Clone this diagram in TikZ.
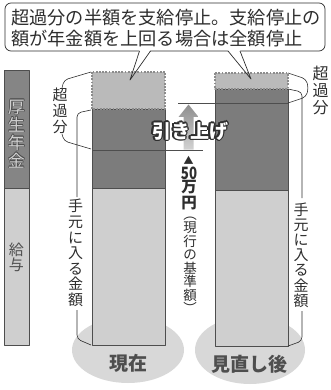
\documentclass[tikz,border=0pt]{standalone}
\usepackage{fontspec}
\setmainfont{Noto Sans CJK JP}
\definecolor{bardark}{HTML}{7C7C7C}
\definecolor{leftdark}{HTML}{858585}
\definecolor{barlight}{HTML}{CFCFCF}
\definecolor{barmid}{HTML}{BABABA}
\definecolor{dotgray}{HTML}{8C8C8C}
\definecolor{edge}{HTML}{4E4E4E}
\definecolor{blobgray}{HTML}{D8D8D8}
\definecolor{inkk}{HTML}{2E2E2E}
\definecolor{arrowtop}{HTML}{8E8E8E}
\definecolor{arrowbot}{HTML}{D2D2D2}
\newcommand\fs[2]{\fontsize{#1}{#2}\selectfont}
\tikzset{
  vtext/.style={align=center, inner sep=0pt, text=inkk},
  brk/.style={draw=inkk, line width=0.6pt, rounded corners=4pt},
  solidpart/.style={draw=edge, line width=0.6pt},
  excesspart/.style={fill=barmid, draw=dotgray, line width=1.6pt, dash pattern=on 1.8pt off 1.4pt},
  caption/.style={inner sep=0pt, font=\fs{19}{19}\bfseries, text=edge},
}
\begin{document}
\begin{tikzpicture}[x=1pt, y=-1pt, line join=round]
\useasboundingbox (0,0) rectangle (330,390);

% bottom blobs
\fill[blobgray] (128,350) ellipse [x radius=56pt, y radius=33pt];
\fill[blobgray] (250,350) ellipse [x radius=55pt, y radius=34pt];

% callout box
\draw[inkk, line width=0.7pt, fill=white, rounded corners=6pt] (5,3) rectangle (325,51);
\fill[white] (139.5,50) -- (130,80) -- (150.5,50) -- cycle;
\fill[white] (228,50) -- (251,79) -- (240,50) -- cycle;
\node[anchor=west, align=left, inner sep=0pt, font=\fs{18.2}{20.5}, text=inkk] (callout) at (11,28)
  {超過分の半額を支給停止。支給停止の\\額が年金額を上回る場合は全額停止};

% left reference bar
\filldraw[fill=leftdark, solidpart] (4,70) rectangle (29,188);
\filldraw[fill=barlight, solidpart] (4,188) rectangle (29,345);
\foreach \a in {0,45,...,315}
  \path (16.5,134) ++(\a:0.6) node[vtext, font=\fs{17}{18}, text=edge] {厚\\生\\年\\金};
\node[vtext, font=\fs{17}{18}, text=barlight] (nenkin) at (16.5,134) {厚\\生\\年\\金};
\node[vtext, font=\fs{15}{15.5}, text=edge] (kyuyo) at (16.5,257.5) {給\\与};

% current bar
\filldraw[fill=bardark, solidpart] (92,109) rectangle (165,188);
\filldraw[fill=barlight, solidpart] (92,188) rectangle (165,345);
\filldraw[excesspart] (92,72) rectangle (165,109);

% revised bar
\filldraw[fill=bardark, solidpart] (215,89) rectangle (288,190);
\filldraw[fill=barlight, solidpart] (215,190) rectangle (288,346);
\filldraw[excesspart] (215,73) rectangle (288,89);

% threshold lines
\draw[edge, line width=0.6pt] (92,150) -- (203,150);
\draw[edge, line width=0.6pt] (178,103) -- (288,103);

% raise arrow
\shade[top color=arrowtop, bottom color=arrowbot]
  (183.5,149.5) -- (183.5,117) -- (178.5,117) -- (188.5,104.5) -- (198.5,117) -- (193.5,117) -- (193.5,149.5) -- cycle;
\foreach \a in {0,30,...,330}
  \path (190,131) ++(\a:1.2) node[inner sep=0pt, font=\fs{19}{19}\bfseries, text=inkk] {引き上げ};
\node[inner sep=0pt, font=\fs{19}{19}\bfseries, text=white] (raise) at (190,131) {引き上げ};

% base amount label
\node[inner sep=0pt, font=\fs{10}{10}, text=inkk] (tri) at (188.5,160) {▲};
\node[inner sep=0pt, font=\fs{17}{17}\bfseries, text=inkk] (fifty) at (189,173)
  {\scalebox{0.78}[1]{50}};
\node[vtext, font=\fs{15.5}{16}\bfseries] (manen) at (189,195.5) {万\\円};
\node[vtext, font=\fs{13.5}{13.5}] (kijun) at (190,265) {︵\\現\\行\\の\\基\\準\\額\\︶};

% braces and labels, current
\node[vtext, font=\fs{15}{16}] (exl) at (60,111) {超\\過\\分};
\draw[brk] (91,72) -- (64,80) -- (62,88);
\draw[brk] (62,134) -- (64,141) -- (91,149);
\node[vtext, font=\fs{15}{15.6}] (kel) at (75.5,253) {手\\元\\に\\入\\る\\金\\額};
\draw[brk] (91,110) -- (77,113) -- (77,197);
\draw[brk] (77,310) -- (77,339) -- (91,345);

% braces and labels, revised
\node[vtext, font=\fs{16}{17}] (exr) at (320.5,90) {超\\過\\分};
\draw[brk] (288,73) -- (306,79) -- (308.5,88) -- (306,97) -- (288,103);
\node[vtext, font=\fs{15}{15.2}] (ker) at (301,255) {手\\元\\に\\入\\る\\金\\額};
\draw[brk] (288,89) -- (302,92) -- (302,198);
\draw[brk] (302,311) -- (302,341) -- (288,346);

% captions
\node[caption] (now) at (128,363.5) {現在};
\node[caption] (after) at (249.5,364) {見直し後};

% callout pointers
\draw[inkk, line width=0.7pt] (139.5,51) -- (130,80) -- (150.5,51);
\draw[inkk, line width=0.7pt] (228,51) -- (251,79) -- (240,51);
\end{tikzpicture}
\end{document}
